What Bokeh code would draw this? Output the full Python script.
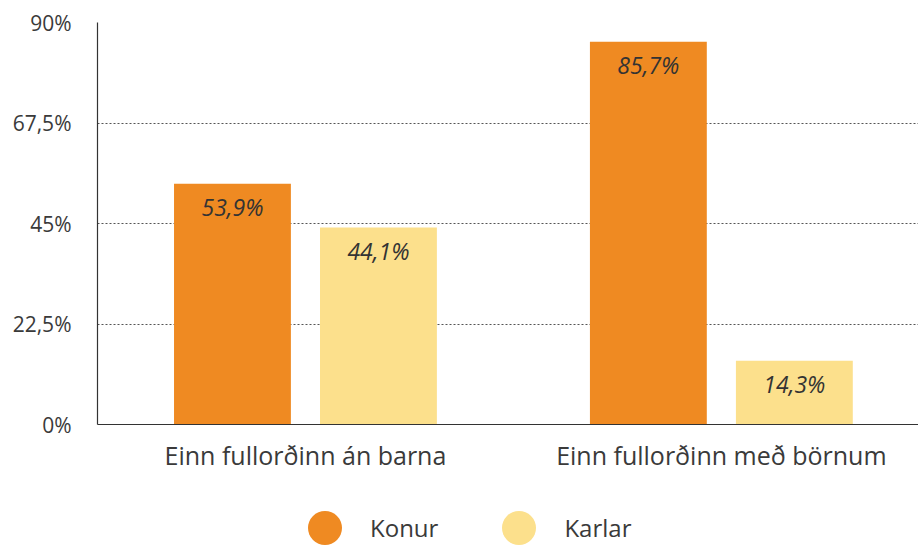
from bokeh.plotting import figure
from bokeh.layouts import column
from bokeh.models import Range1d, FixedTicker, ColumnDataSource, Legend, LegendItem
from bokeh.core.properties import value
from bokeh.embed import file_html
from bokeh.resources import INLINE

categories = ["Einn fullorðinn án barna", "Einn fullorðinn með börnum"]
series = ["Konur", "Karlar"]
konur = [53.9, 85.7]
karlar = [44.1, 14.3]
y_ticks = [0, 22.5, 45, 67.5, 90]
y_labels = ["0%", "22,5%", "45%", "67,5%", "90%"]
colors = ["#EF8A22", "#FCE08C"]

FONT = "Open Sans"
TXT = "#3a3a3a"

p = figure(frame_width=821, frame_height=402, output_backend="svg", toolbar_location=None,
           x_range=Range1d(0, 1.974), y_range=Range1d(0, 90),
           min_border_left=97, min_border_right=0, min_border_top=22, min_border_bottom=70)
p.outline_line_color = None
p.background_fill_color = "white"
p.border_fill_color = "white"

xs = [i + 0.5 for i in range(len(categories))]
offset = 0.1755
bw = 0.281

for k, (name, vals) in enumerate(zip(series, [konur, karlar])):
    sx = [x + (offset if k == 1 else -offset) for x in xs]
    src = ColumnDataSource(dict(x=sx, top=vals,
                                lbl=[("%.1f" % v).replace(".", ",") + "%" for v in vals]))
    p.vbar(x="x", top="top", width=bw, bottom=0, source=src,
           fill_color=colors[k], line_color=None)
    p.text(x="x", y="top", text="lbl", source=src, y_offset=23,
           text_align="center", text_baseline="middle",
           text_font=value(FONT), text_font_style="italic",
           text_font_size="23px", text_color="#333333")

p.xaxis.ticker = FixedTicker(ticks=xs)
p.xaxis.major_label_overrides = {x: c for x, c in zip(xs, categories)}
p.xaxis.major_label_text_font = FONT
p.xaxis.major_label_text_font_size = "25px"
p.xaxis.major_label_text_color = TXT
p.xaxis.major_tick_line_color = None
p.xaxis.minor_tick_line_color = None
p.xaxis.major_label_standoff = 7
p.xaxis.axis_line_color = "#333333"
p.xaxis.axis_line_width = 1.2

p.yaxis.ticker = FixedTicker(ticks=y_ticks)
p.yaxis.major_label_overrides = {t: l for t, l in zip(y_ticks, y_labels)}
p.yaxis.major_label_text_font = FONT
p.yaxis.major_label_text_font_size = "21px"
p.yaxis.major_label_text_color = TXT
p.yaxis.major_tick_line_color = None
p.yaxis.minor_tick_line_color = None
p.yaxis.major_label_standoff = 20
p.yaxis.axis_line_color = "#333333"
p.yaxis.axis_line_width = 1.2

p.xgrid.grid_line_color = None
p.ygrid.grid_line_color = "#555555"
p.ygrid.grid_line_dash = "2 2"
p.ygrid.grid_line_width = 1

# legend in its own strip below the chart
lg = figure(width=918, height=51, output_backend="svg", toolbar_location=None,
            x_range=Range1d(0, 1), y_range=Range1d(0, 1),
            x_axis_type=None, y_axis_type=None, min_border=0)
lg.outline_line_color = None
lg.xgrid.grid_line_color = None
lg.ygrid.grid_line_color = None
leg_r = []
for k, name in enumerate(series):
    lr = lg.scatter(x=[-5], y=[-5], marker="circle", size=30,
                    fill_color=colors[k], line_color=None)
    leg_r.append(lr)
legend = Legend(items=[LegendItem(label=series[k], renderers=[leg_r[k]]) for k in range(2)],
                orientation="horizontal", location=(185, -25),
                label_text_font=FONT, label_text_font_size="24px", label_text_color=TXT,
                label_text_baseline="middle",
                glyph_width=85, glyph_height=85, spacing=38, label_standoff=3,
                border_line_color=None, background_fill_alpha=0, padding=0, margin=0)
lg.add_layout(legend, "center")

layout = column(p, lg, spacing=0)
open("out.html", "w").write(file_html(layout, INLINE))
